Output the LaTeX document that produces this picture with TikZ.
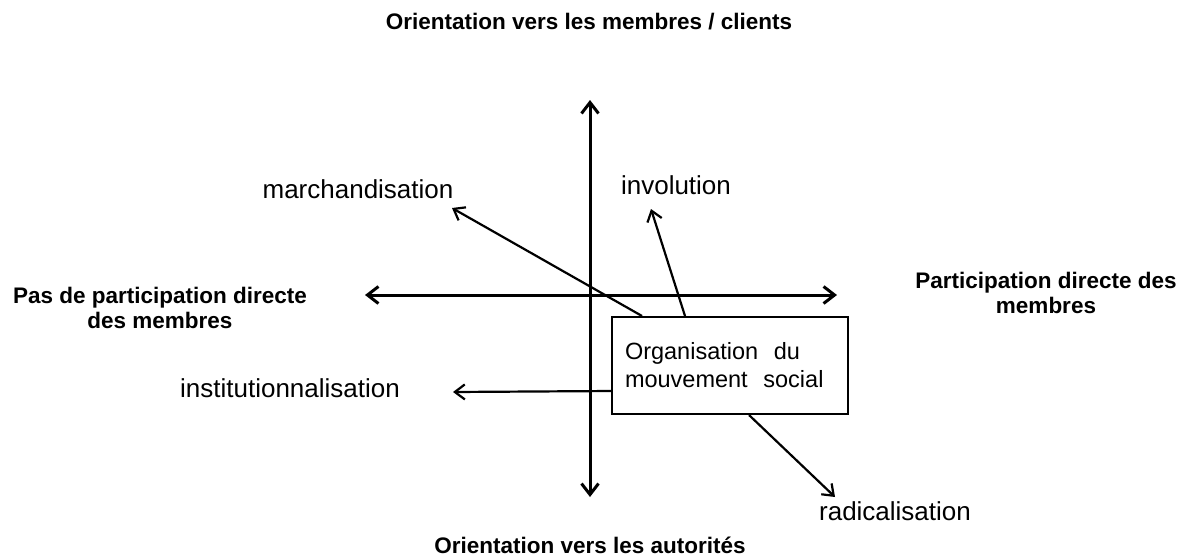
\documentclass[tikz,border=0pt]{standalone}
\usepackage{fontspec}
\setmainfont{Liberation Sans}
\usetikzlibrary{arrows.meta,calc}
\begin{document}
\begin{tikzpicture}[x=1pt,y=-1pt,
  axis/.style={line width=3pt,{Straight Barb[length=11pt,width=17pt]}-{Straight Barb[length=11pt,width=17pt]}},
  conn/.style={line width=2.2pt,-{Straight Barb[length=10pt,width=15pt]}},
  boldlbl/.style={font=\fontsize{22.5}{25}\selectfont\bfseries,align=center,inner sep=0pt},
  lbl/.style={font=\fontsize{26}{30}\selectfont,inner sep=0pt},
  orgbox/.style={draw,line width=2pt,minimum width=236pt,minimum height=97pt,inner xsep=13pt,text width=210pt,align=left,font=\fontsize{23.5}{28}\selectfont}]
\useasboundingbox (0,0) rectangle (1191,558);
% axis end points
\coordinate (vt) at (590,100);
\coordinate (vb) at (590,497);
\coordinate (hl) at (365,295);
\coordinate (hr) at (837,295);
\draw[axis] (vb) -- (vt);
\draw[axis] (hl) -- (hr);
% labels
\node[boldlbl] (top) at (589,22) {Orientation vers les membres / clients};
\node[boldlbl] (bot) at (590,545) {Orientation vers les autorités};
\node[boldlbl] (left) at (160,308) {Pas de participation directe\\des membres};
\node[boldlbl] (right) at (1046,293) {Participation directe des\\membres};
\node[lbl] (march) at (358,189) {marchandisation};
\node[lbl] (invol) at (676,185) {involution};
\node[lbl] (inst) at (290,388) {institutionnalisation};
\node[lbl] (radic) at (895,511) {radicalisation};
% box
\node[orgbox,fill=white] (box) at (730,365.5) {Organisation\ \ du\\mouvement\ \ social};
% connectors
\coordinate (mtip) at (452,208);
\coordinate (itip) at (651,209);
\coordinate (ntip) at (453,392);
\coordinate (rtip) at (835,497);
\draw[conn] ($(box.north west)+(31,0)$) -- (mtip);
\draw[conn] ($(box.north west)+(74,0)$) -- (itip);
\draw[conn] ($(box.north west)+(0,75)$) -- (ntip);
\draw[conn] ($(box.south west)+(138,0)$) -- (rtip);
\end{tikzpicture}
\end{document}
